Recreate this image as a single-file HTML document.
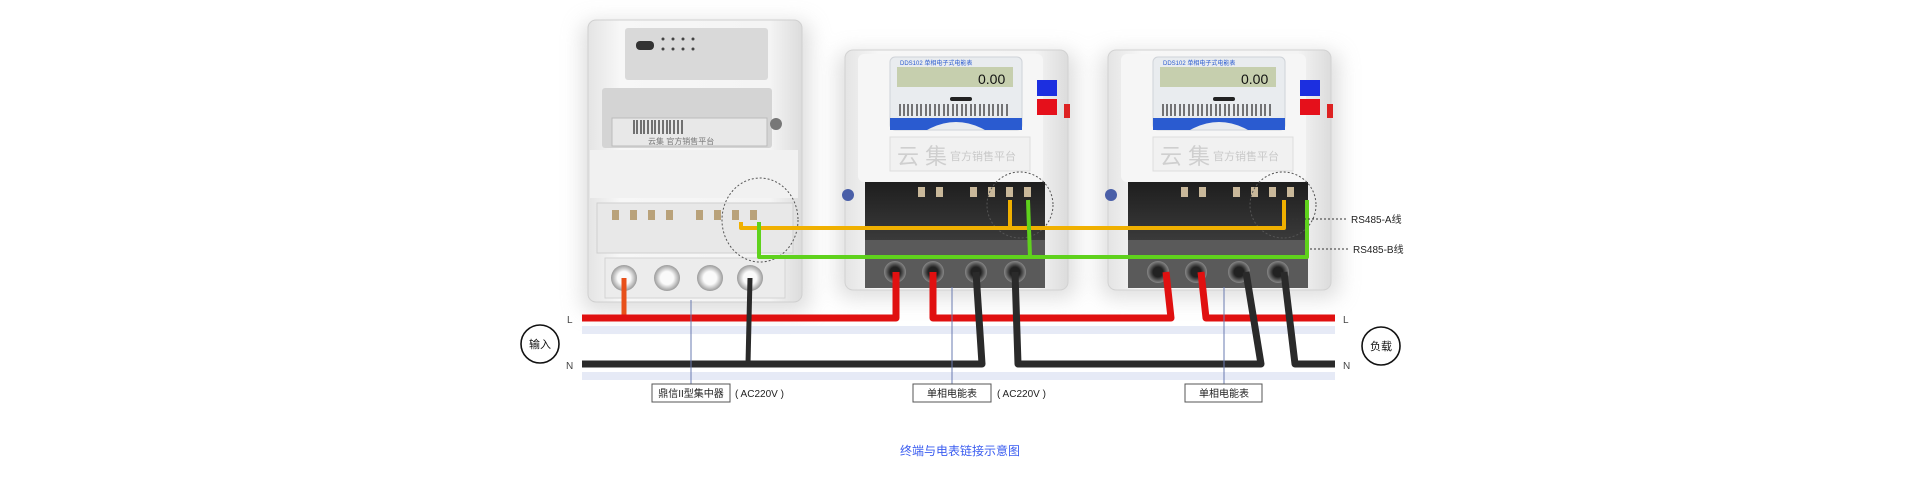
<!DOCTYPE html>
<html><head><meta charset="utf-8"><style>
html,body{margin:0;padding:0;background:#fff;}
svg{display:block;font-family:"Liberation Sans","Noto Sans CJK SC",sans-serif;}
</style></head><body>
<svg width="1920" height="487" viewBox="0 0 1920 487" xmlns="http://www.w3.org/2000/svg">
<defs>
<linearGradient id="body" x1="0" x2="1"><stop offset="0" stop-color="#e4e4e4"/><stop offset="0.15" stop-color="#f7f7f7"/><stop offset="0.85" stop-color="#f4f4f4"/><stop offset="1" stop-color="#dcdcdc"/></linearGradient>
<linearGradient id="blk" x1="0" y1="0" x2="0" y2="1"><stop offset="0" stop-color="#1e1e1e"/><stop offset="1" stop-color="#3a3a3a"/></linearGradient>
<radialGradient id="hole"><stop offset="0.5" stop-color="#fafafa"/><stop offset="1" stop-color="#9a9a9a"/></radialGradient>
<radialGradient id="hole2"><stop offset="0.45" stop-color="#222"/><stop offset="1" stop-color="#888"/></radialGradient>
<filter id="sh" x="-20%" y="-20%" width="140%" height="140%"><feGaussianBlur stdDeviation="10"/></filter>
</defs>

<!-- soft shadows -->
<g fill="#c8c8c8" opacity="0.6" filter="url(#sh)">
<rect x="582" y="22" width="228" height="290" rx="10"/>
<rect x="838" y="52" width="238" height="246" rx="10"/>
<rect x="1101" y="52" width="238" height="246" rx="10"/>
</g>

<!-- shadows under lines -->
<rect x="582" y="326" width="753" height="8" fill="#e6eaf6"/>
<rect x="582" y="372" width="753" height="8" fill="#e6eaf6"/>

<!-- ===== Collector ===== -->
<rect x="588" y="20" width="214" height="282" rx="8" fill="url(#body)" stroke="#d0d0d0"/>
<rect x="625" y="28" width="143" height="52" rx="3" fill="#d9d9d9"/>
<rect x="636" y="41" width="18" height="9" rx="4" fill="#333"/>
<g fill="#444"><circle cx="663" cy="39" r="1.5"/><circle cx="673" cy="39" r="1.5"/><circle cx="683" cy="39" r="1.5"/><circle cx="693" cy="39" r="1.5"/><circle cx="663" cy="49" r="1.5"/><circle cx="673" cy="49" r="1.5"/><circle cx="683" cy="49" r="1.5"/><circle cx="693" cy="49" r="1.5"/></g>
<rect x="602" y="88" width="170" height="60" rx="3" fill="#d4d4d4"/>
<rect x="612" y="118" width="155" height="28" fill="#e8e8e8" stroke="#bbb"/>
<g stroke="#222" stroke-width="1.2">
<line x1="634" y1="120" x2="634" y2="134"/><line x1="637" y1="120" x2="637" y2="134"/><line x1="641" y1="120" x2="641" y2="134"/><line x1="644" y1="120" x2="644" y2="134"/><line x1="648" y1="120" x2="648" y2="134"/><line x1="652" y1="120" x2="652" y2="134"/><line x1="655" y1="120" x2="655" y2="134"/><line x1="659" y1="120" x2="659" y2="134"/><line x1="663" y1="120" x2="663" y2="134"/><line x1="667" y1="120" x2="667" y2="134"/><line x1="670" y1="120" x2="670" y2="134"/><line x1="674" y1="120" x2="674" y2="134"/><line x1="678" y1="120" x2="678" y2="134"/><line x1="682" y1="120" x2="682" y2="134"/>
</g>
<text x="648" y="144" font-size="8" fill="#777">云集 官方销售平台</text>
<circle cx="776" cy="124" r="6" fill="#777"/>
<rect x="590" y="150" width="208" height="48" fill="#f1f1f1"/>
<rect x="597" y="203" width="196" height="50" fill="#e8e8e8" stroke="#cfcfcf"/>
<g fill="#b9a27a"><rect x="612" y="210" width="7" height="10"/><rect x="630" y="210" width="7" height="10"/><rect x="648" y="210" width="7" height="10"/><rect x="666" y="210" width="7" height="10"/><rect x="696" y="210" width="7" height="10"/><rect x="714" y="210" width="7" height="10"/><rect x="732" y="210" width="7" height="10"/><rect x="750" y="210" width="7" height="10"/></g>
<rect x="605" y="258" width="180" height="40" fill="#ececec" stroke="#d3d3d3"/>
<circle cx="624" cy="278" r="13" fill="url(#hole)"/><circle cx="667" cy="278" r="13" fill="url(#hole)"/><circle cx="710" cy="278" r="13" fill="url(#hole)"/><circle cx="750" cy="278" r="13" fill="url(#hole)"/>
<ellipse cx="760" cy="220" rx="38" ry="42" fill="none" stroke="#555" stroke-dasharray="2 2"/>

<!-- ===== Meter template ===== -->
<g id="m1">
<rect x="845" y="50" width="223" height="240" rx="8" fill="url(#body)" stroke="#d2d2d2"/>
<rect x="858" y="54" width="185" height="128" rx="6" fill="#f6f6f6"/>
<rect x="890" y="57" width="132" height="73" rx="5" fill="#e9ecef" stroke="#cfd3d8"/>
<text x="900" y="65" font-size="6" fill="#2a5bd0">DDS102 单相电子式电能表</text>
<rect x="897" y="67" width="116" height="20" fill="#c6cfae"/>
<text x="978" y="84" font-size="14" fill="#111">0.00</text>
<g stroke="#222" stroke-width="1.2">
<line x1="900" y1="104" x2="900" y2="116"/><line x1="904" y1="104" x2="904" y2="116"/><line x1="908" y1="104" x2="908" y2="116"/><line x1="912" y1="104" x2="912" y2="116"/><line x1="917" y1="104" x2="917" y2="116"/><line x1="921" y1="104" x2="921" y2="116"/><line x1="926" y1="104" x2="926" y2="116"/><line x1="930" y1="104" x2="930" y2="116"/><line x1="935" y1="104" x2="935" y2="116"/><line x1="939" y1="104" x2="939" y2="116"/><line x1="944" y1="104" x2="944" y2="116"/><line x1="948" y1="104" x2="948" y2="116"/><line x1="953" y1="104" x2="953" y2="116"/><line x1="957" y1="104" x2="957" y2="116"/><line x1="962" y1="104" x2="962" y2="116"/><line x1="966" y1="104" x2="966" y2="116"/><line x1="971" y1="104" x2="971" y2="116"/><line x1="975" y1="104" x2="975" y2="116"/><line x1="980" y1="104" x2="980" y2="116"/><line x1="984" y1="104" x2="984" y2="116"/><line x1="989" y1="104" x2="989" y2="116"/><line x1="993" y1="104" x2="993" y2="116"/><line x1="998" y1="104" x2="998" y2="116"/><line x1="1002" y1="104" x2="1002" y2="116"/><line x1="1007" y1="104" x2="1007" y2="116"/>
</g>
<rect x="950" y="97" width="22" height="4" rx="2" fill="#222"/>
<path d="M890 118 H1022 V130 H985 Q956 114 927 130 H890 Z" fill="#2a5bd0"/>
<rect x="890" y="137" width="140" height="34" fill="#f1f1f1" stroke="#ddd"/>
<text x="897" y="164" font-size="22" fill="#cfcfcf">云 集</text>
<text x="950" y="160" font-size="11" fill="#c9c9c9">官方销售平台</text>
<rect x="1037" y="80" width="20" height="16" fill="#1c2fe0"/>
<rect x="1037" y="99" width="20" height="16" fill="#e5101b"/>
<rect x="1064" y="104" width="6" height="14" fill="#d22"/>
<circle cx="848" cy="195" r="6" fill="#4a5fa8"/>
<rect x="865" y="182" width="180" height="58" fill="url(#blk)"/>
<g fill="#c9b89a"><rect x="918" y="187" width="7" height="10"/><rect x="936" y="187" width="7" height="10"/><rect x="970" y="187" width="7" height="10"/><rect x="988" y="187" width="7" height="10"/><rect x="1006" y="187" width="7" height="10"/><rect x="1024" y="187" width="7" height="10"/></g>
<rect x="865" y="240" width="180" height="48" fill="#5a5a5a"/>
<circle cx="895" cy="272" r="11" fill="url(#hole2)"/><circle cx="933" cy="272" r="11" fill="url(#hole2)"/><circle cx="976" cy="272" r="11" fill="url(#hole2)"/><circle cx="1015" cy="272" r="11" fill="url(#hole2)"/>
<circle cx="1020" cy="205" r="33" fill="none" stroke="#555" stroke-dasharray="2 2"/>
</g>
<use href="#m1" x="263"/>

<!-- ===== RS485 wires ===== -->
<g fill="none" stroke-width="4" stroke-linejoin="round">
<polyline points="741,222 741,228 1284,228 1284,200" stroke="#f0b000"/>
<line x1="1010" y1="200" x2="1010" y2="228" stroke="#f0b000"/>
<polyline points="759,222 759,257 1307,257 1307,200" stroke="#5fd21c"/>
<line x1="1028" y1="200" x2="1030" y2="257" stroke="#5fd21c"/>
</g>

<!-- ===== Power wires ===== -->
<g fill="none" stroke-linejoin="round">
<line x1="624" y1="278" x2="624" y2="318" stroke="#e8501a" stroke-width="5"/>
<polyline points="582,318 896,318 896,272" stroke="#e01010" stroke-width="7"/>
<polyline points="933,272 933,318 1171,318 1166,272" stroke="#e01010" stroke-width="7"/>
<polyline points="1201,272 1206,318 1335,318" stroke="#e01010" stroke-width="7"/>
<polyline points="582,364 982,364 976,272" stroke="#2a2a2a" stroke-width="7"/>
<line x1="750" y1="278" x2="748" y2="364" stroke="#2a2a2a" stroke-width="5"/>
<polyline points="1015,272 1018,364 1261,364 1246,272" stroke="#2a2a2a" stroke-width="7"/>
<polyline points="1284,272 1295,364 1335,364" stroke="#2a2a2a" stroke-width="7"/>
</g>

<!-- RS485 labels -->
<g stroke="#333" stroke-dasharray="2 2"><line x1="1288" y1="219" x2="1348" y2="219"/><line x1="1310" y1="249" x2="1350" y2="249"/></g>
<text x="1351" y="223" font-size="10" fill="#222">RS485-A线</text>
<text x="1353" y="253" font-size="10" fill="#222">RS485-B线</text>

<!-- L/N labels -->
<g font-size="10" fill="#444">
<text x="567" y="323">L</text><text x="566" y="369">N</text>
<text x="1343" y="323">L</text><text x="1343" y="369">N</text>
</g>
<circle cx="540" cy="344" r="19" fill="#fff" stroke="#111" stroke-width="1.6"/>
<text x="540" y="348" font-size="11" text-anchor="middle" fill="#111">输入</text>
<circle cx="1381" cy="346" r="19" fill="#fff" stroke="#111" stroke-width="1.6"/>
<text x="1381" y="350" font-size="11" text-anchor="middle" fill="#111">负载</text>

<!-- leaders and boxes -->
<g stroke="#6a7bb0" stroke-width="1"><line x1="691" y1="300" x2="691" y2="384"/><line x1="952" y1="287" x2="952" y2="384"/><line x1="1224" y1="287" x2="1224" y2="384"/></g>
<g fill="#fff" stroke="#555"><rect x="652" y="384" width="78" height="18"/><rect x="913" y="384" width="78" height="18"/><rect x="1185" y="384" width="77" height="18"/></g>
<g font-size="10" fill="#222">
<text x="691" y="397" text-anchor="middle">鼎信II型集中器</text>
<text x="952" y="397" text-anchor="middle">单相电能表</text>
<text x="1224" y="397" text-anchor="middle">单相电能表</text>
<text x="735" y="397">( AC220V )</text>
<text x="997" y="397">( AC220V )</text>
</g>
<text x="960" y="455" font-size="12" text-anchor="middle" fill="#3a5cf0">终端与电表链接示意图</text>
</svg>
</body></html>
